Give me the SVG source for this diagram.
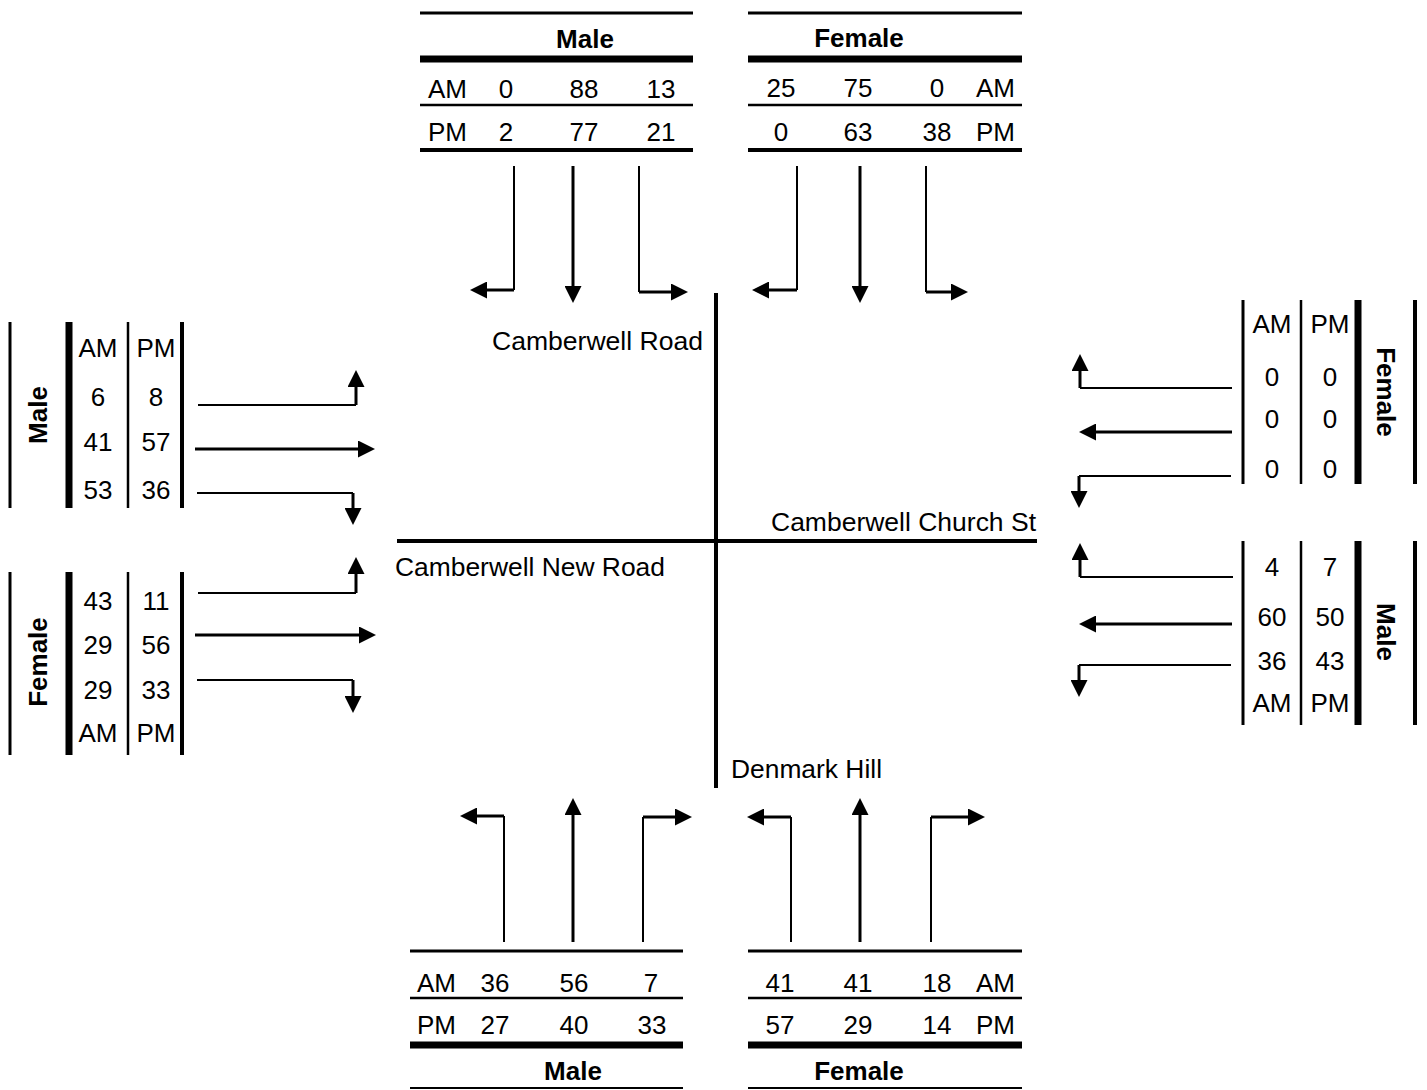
<svg xmlns="http://www.w3.org/2000/svg" width="1427" height="1090" viewBox="0 0 1427 1090">
<style>
text{font-family:"Liberation Sans",Arial,sans-serif;font-size:26px;fill:#000}
.b{font-weight:bold}
.m{text-anchor:middle}
.e{text-anchor:end}
.c{dominant-baseline:central}
line,path{stroke:#000;fill:none}
.w2{stroke-width:2}
.w25{stroke-width:2.5}
.w3{stroke-width:3}
.w4{stroke-width:4}
.w7{stroke-width:7}
.a{stroke-width:3;marker-end:url(#ah)}
</style>
<defs>
<marker id="ah" markerUnits="userSpaceOnUse" markerWidth="17" markerHeight="17" refX="5" refY="8.5" orient="auto" viewBox="0 0 17 17">
<path d="M0,0 L17,8.5 L0,17 z" style="fill:#000;stroke:none"/>
</marker>
</defs>
<rect width="1427" height="1090" fill="#fff"/>

<g id="roads">
<line x1="716" y1="293" x2="716" y2="788" class="w4"/>
<line x1="397" y1="541" x2="1037" y2="541" class="w4"/>
<text x="492" y="350" textLength="211" lengthAdjust="spacingAndGlyphs">Camberwell Road</text>
<text x="771" y="531" textLength="265" lengthAdjust="spacingAndGlyphs">Camberwell Church St</text>
<text x="395" y="576" textLength="270" lengthAdjust="spacingAndGlyphs">Camberwell New Road</text>
<text x="731" y="778" textLength="151" lengthAdjust="spacingAndGlyphs">Denmark Hill</text>
</g>

<g id="top-male">
<line x1="420" y1="13" x2="693" y2="13" class="w3"/>
<line x1="420" y1="59" x2="693" y2="59" class="w7"/>
<line x1="420" y1="105" x2="693" y2="105" class="w25"/>
<line x1="420" y1="150" x2="693" y2="150" class="w4"/>
<text x="585" y="48" class="b m">Male</text>
<text x="428" y="98">AM</text><text x="506" y="98" class="m">0</text><text x="584" y="98" class="m">88</text><text x="661" y="98" class="m">13</text>
<text x="428" y="141">PM</text><text x="506" y="141" class="m">2</text><text x="584" y="141" class="m">77</text><text x="661" y="141" class="m">21</text>
</g>

<g id="top-female">
<line x1="748" y1="13" x2="1022" y2="13" class="w3"/>
<line x1="748" y1="59" x2="1022" y2="59" class="w7"/>
<line x1="748" y1="105" x2="1022" y2="105" class="w25"/>
<line x1="748" y1="150" x2="1022" y2="150" class="w4"/>
<text x="859" y="47" class="b m">Female</text>
<text x="781" y="97" class="m">25</text><text x="858" y="97" class="m">75</text><text x="937" y="97" class="m">0</text><text x="1015" y="97" class="e">AM</text>
<text x="781" y="141" class="m">0</text><text x="858" y="141" class="m">63</text><text x="937" y="141" class="m">38</text><text x="1015" y="141" class="e">PM</text>
</g>

<g id="bottom-male">
<line x1="410" y1="951" x2="683" y2="951" class="w3"/>
<line x1="410" y1="998" x2="683" y2="998" class="w25"/>
<line x1="410" y1="1045" x2="683" y2="1045" class="w7"/>
<line x1="410" y1="1088" x2="683" y2="1088" style="stroke-width:2"/>
<text x="417" y="992">AM</text><text x="495" y="992" class="m">36</text><text x="574" y="992" class="m">56</text><text x="651" y="992" class="m">7</text>
<text x="417" y="1034">PM</text><text x="495" y="1034" class="m">27</text><text x="574" y="1034" class="m">40</text><text x="652" y="1034" class="m">33</text>
<text x="573" y="1080" class="b m">Male</text>
</g>

<g id="bottom-female">
<line x1="748" y1="951" x2="1022" y2="951" class="w3"/>
<line x1="748" y1="998" x2="1022" y2="998" class="w25"/>
<line x1="748" y1="1045" x2="1022" y2="1045" class="w7"/>
<line x1="748" y1="1088" x2="1022" y2="1088" style="stroke-width:2"/>
<text x="780" y="992" class="m">41</text><text x="858" y="992" class="m">41</text><text x="937" y="992" class="m">18</text><text x="1015" y="992" class="e">AM</text>
<text x="780" y="1034" class="m">57</text><text x="858" y="1034" class="m">29</text><text x="937" y="1034" class="m">14</text><text x="1015" y="1034" class="e">PM</text>
<text x="859" y="1080" class="b m">Female</text>
</g>

<g id="left-male">
<line x1="10" y1="322" x2="10" y2="508" class="w3"/>
<line x1="69" y1="322" x2="69" y2="508" class="w7"/>
<line x1="128" y1="322" x2="128" y2="508" class="w25"/>
<line x1="182" y1="322" x2="182" y2="508" class="w4"/>
<text x="38" y="415" class="b m c" transform="rotate(-90 38 415)">Male</text>
<text x="98" y="357" class="m">AM</text><text x="156" y="357" class="m">PM</text>
<text x="98" y="406" class="m">6</text><text x="156" y="406" class="m">8</text>
<text x="98" y="451" class="m">41</text><text x="156" y="451" class="m">57</text>
<text x="98" y="499" class="m">53</text><text x="156" y="499" class="m">36</text>
</g>

<g id="left-female">
<line x1="10" y1="572" x2="10" y2="755" class="w3"/>
<line x1="69" y1="572" x2="69" y2="755" class="w7"/>
<line x1="128" y1="572" x2="128" y2="755" class="w25"/>
<line x1="182" y1="572" x2="182" y2="755" class="w4"/>
<text x="38" y="662" class="b m c" transform="rotate(-90 38 662)">Female</text>
<text x="98" y="610" class="m">43</text><text x="156" y="610" class="m">11</text>
<text x="98" y="654" class="m">29</text><text x="156" y="654" class="m">56</text>
<text x="98" y="699" class="m">29</text><text x="156" y="699" class="m">33</text>
<text x="98" y="742" class="m">AM</text><text x="156" y="742" class="m">PM</text>
</g>

<g id="right-female">
<line x1="1243" y1="300" x2="1243" y2="484" class="w3"/>
<line x1="1301" y1="300" x2="1301" y2="484" class="w25"/>
<line x1="1358" y1="300" x2="1358" y2="484" class="w7"/>
<line x1="1415" y1="300" x2="1415" y2="484" class="w4"/>
<text x="1272" y="333" class="m">AM</text><text x="1330" y="333" class="m">PM</text>
<text x="1272" y="386" class="m">0</text><text x="1330" y="386" class="m">0</text>
<text x="1272" y="428" class="m">0</text><text x="1330" y="428" class="m">0</text>
<text x="1272" y="478" class="m">0</text><text x="1330" y="478" class="m">0</text>
<text x="1386" y="392" class="b m c" transform="rotate(90 1386 392)">Female</text>
</g>

<g id="right-male">
<line x1="1243" y1="541" x2="1243" y2="725" class="w3"/>
<line x1="1301" y1="541" x2="1301" y2="725" class="w25"/>
<line x1="1358" y1="541" x2="1358" y2="725" class="w7"/>
<line x1="1415" y1="541" x2="1415" y2="725" class="w4"/>
<text x="1272" y="576" class="m">4</text><text x="1330" y="576" class="m">7</text>
<text x="1272" y="626" class="m">60</text><text x="1330" y="626" class="m">50</text>
<text x="1272" y="670" class="m">36</text><text x="1330" y="670" class="m">43</text>
<text x="1272" y="712" class="m">AM</text><text x="1330" y="712" class="m">PM</text>
<text x="1386" y="632" class="b m c" transform="rotate(90 1386 632)">Male</text>
</g>

<g id="connectors">
<!-- top -->
<path d="M514,166 V290" class="w2"/><path d="M514,290 H482" class="a"/>
<path d="M573,166 V291" class="a"/>
<path d="M639,166 V292" class="w2"/><path d="M639,292 H676" class="a"/>
<path d="M797,166 V290" class="w2"/><path d="M797,290 H764" class="a"/>
<path d="M860,166 V291" class="a"/>
<path d="M926,166 V292" class="w2"/><path d="M926,292 H956" class="a"/>
<!-- bottom -->
<path d="M504,942 V816" class="w2"/><path d="M504,816 H472" class="a"/>
<path d="M573,942 V810" class="a"/>
<path d="M643,942 V817" class="w2"/><path d="M643,817 H680" class="a"/>
<path d="M791,942 V817" class="w2"/><path d="M791,817 H759" class="a"/>
<path d="M860,942 V810" class="a"/>
<path d="M931,942 V817" class="w2"/><path d="M931,817 H973" class="a"/>
<!-- left -->
<path d="M198,405 H356" class="w2"/><path d="M356,405 V382" class="a"/>
<path d="M195,449 H363" class="a"/>
<path d="M197,493 H353" class="w2"/><path d="M353,493 V513" class="a"/>
<path d="M198,593 H356" class="w2"/><path d="M356,593 V569" class="a"/>
<path d="M195,635 H364" class="a"/>
<path d="M197,680 H353" class="w2"/><path d="M353,680 V701" class="a"/>
<!-- right -->
<path d="M1232,388 H1080" class="w2"/><path d="M1080,388 V366" class="a"/>
<path d="M1232,432 H1091" class="a"/>
<path d="M1231,476 H1079" class="w2"/><path d="M1079,476 V496" class="a"/>
<path d="M1233,577 H1080" class="w2"/><path d="M1080,577 V555" class="a"/>
<path d="M1232,624 H1091" class="a"/>
<path d="M1231,665 H1079" class="w2"/><path d="M1079,665 V685" class="a"/>
</g>
</svg>
